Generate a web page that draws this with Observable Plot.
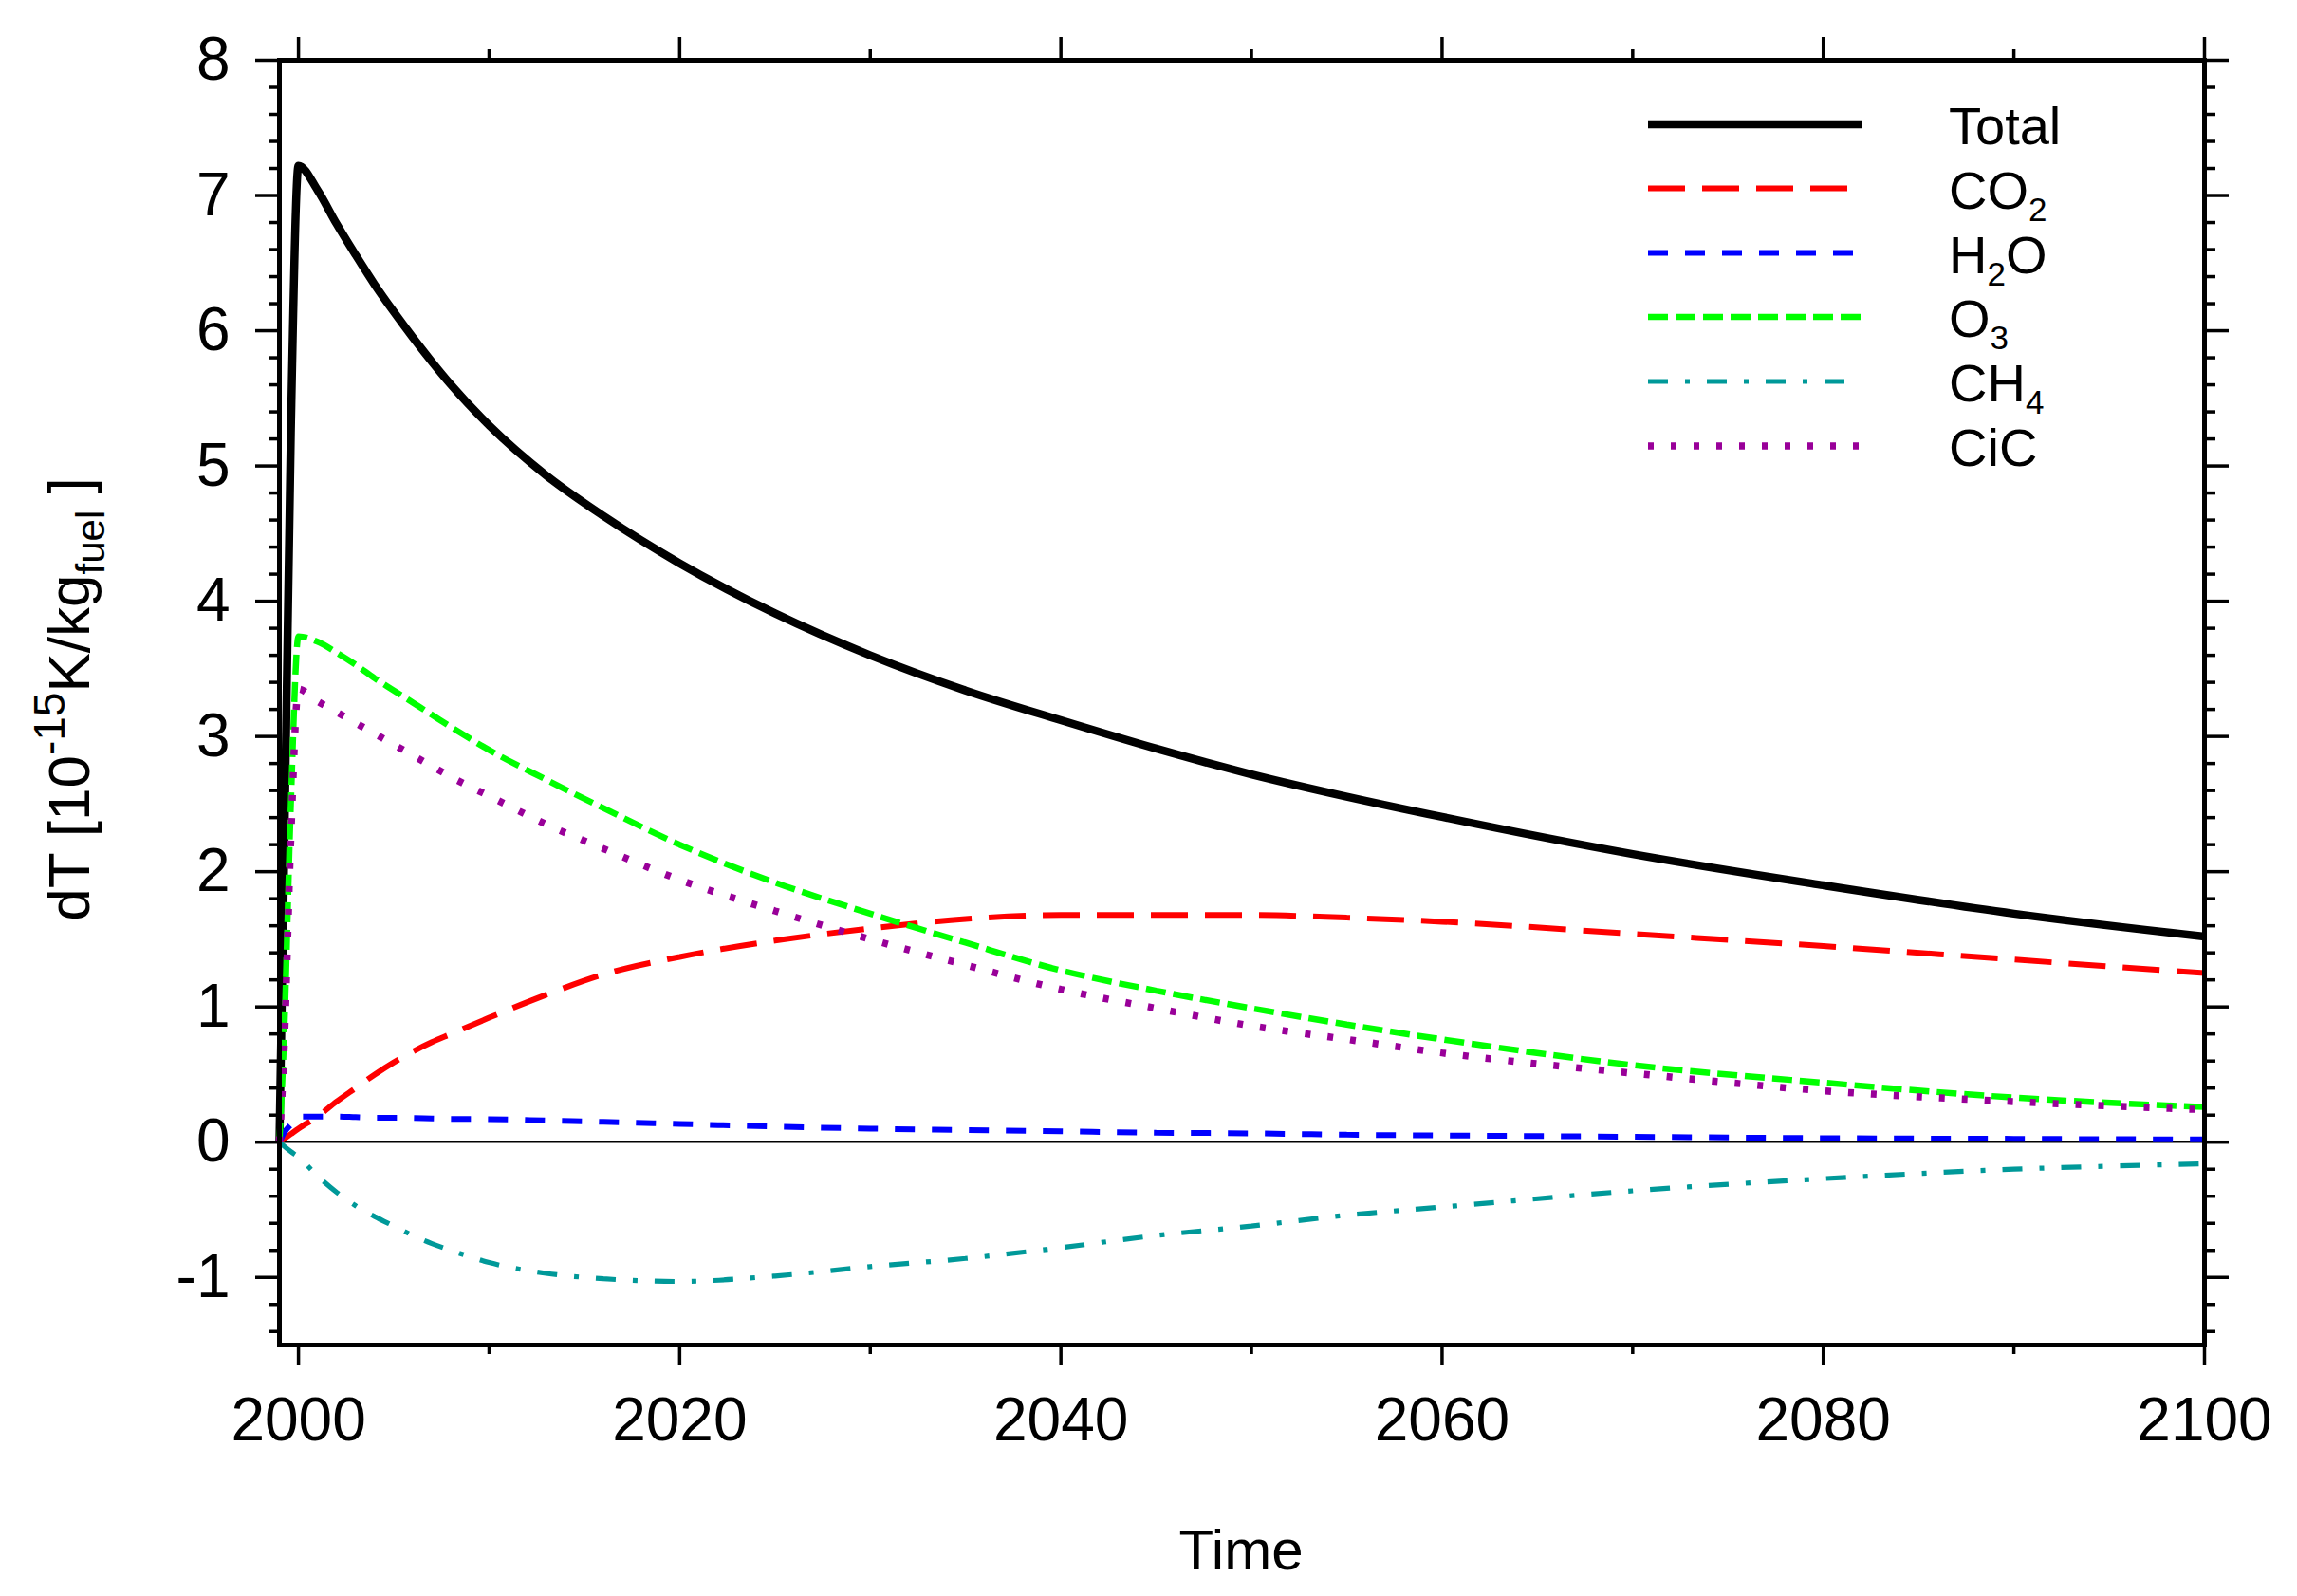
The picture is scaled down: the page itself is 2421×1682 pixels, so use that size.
<!DOCTYPE html>
<html>
<head>
<meta charset="utf-8">
<script src="https://cdn.jsdelivr.net/npm/d3@7"></script>
<script src="https://cdn.jsdelivr.net/npm/@observablehq/plot@0.6"></script>
<style>
  html, body { margin: 0; padding: 0; background: #fff; overflow: hidden; }
  svg { display: block; }
</style>
</head>
<body>
<div id="chart"></div>
<script>
// ---- data ----
const years = [1999, 1999.25, 1999.6, 2000, 2001, 2002, 2003, 2004, 2005, 2006, 2007, 2008, 2010, 2013, 2016, 2020, 2025, 2030, 2035, 2040, 2045, 2050, 2055, 2060, 2070, 2080, 2090, 2100];
const total = [0, 2.1, 5.25, 7.22, 7.04, 6.79, 6.56, 6.34, 6.14, 5.95, 5.77, 5.60, 5.30, 4.93, 4.63, 4.28, 3.91, 3.60, 3.34, 3.12, 2.91, 2.72, 2.555, 2.405, 2.13, 1.90, 1.69, 1.52];
const co2   = [0, 0.025, 0.06, 0.10, 0.19, 0.30, 0.40, 0.50, 0.59, 0.67, 0.74, 0.80, 0.92, 1.09, 1.24, 1.37, 1.49, 1.58, 1.65, 1.68, 1.68, 1.68, 1.66, 1.63, 1.54, 1.45, 1.35, 1.25];
const h2o   = [0, 0.07, 0.13, 0.19, 0.19, 0.19, 0.185, 0.18, 0.18, 0.178, 0.175, 0.172, 0.17, 0.16, 0.15, 0.135, 0.115, 0.10, 0.09, 0.08, 0.07, 0.065, 0.055, 0.05, 0.04, 0.03, 0.025, 0.02];
const o3    = [0, 0.8, 2.5, 3.74, 3.70, 3.62, 3.53, 3.43, 3.34, 3.25, 3.16, 3.07, 2.90, 2.68, 2.47, 2.20, 1.92, 1.69, 1.475, 1.27, 1.12, 0.99, 0.87, 0.76, 0.57, 0.44, 0.33, 0.26];
const ch4   = [0, -0.03, -0.07, -0.11, -0.25, -0.37, -0.47, -0.55, -0.62, -0.69, -0.75, -0.80, -0.89, -0.97, -1.01, -1.03, -0.99, -0.92, -0.86, -0.78, -0.69, -0.62, -0.54, -0.48, -0.36, -0.27, -0.20, -0.16];
const cic   = [0, 0.7, 2.25, 3.35, 3.26, 3.18, 3.10, 3.02, 2.94, 2.86, 2.78, 2.70, 2.56, 2.35, 2.17, 1.94, 1.71, 1.50, 1.31, 1.13, 0.99, 0.86, 0.76, 0.66, 0.51, 0.38, 0.30, 0.24];
const seriesNames = ["Total", "CO2", "H2O", "O3", "CH4", "CiC"];
const seriesValues = [total, co2, h2o, o3, ch4, cic];
const yMajorTicks = [-1, 0, 1, 2, 3, 4, 5, 6, 7, 8];
const xMajorTicks = [2000, 2020, 2040, 2060, 2080, 2100];
const xMinorTicks = [2010, 2030, 2050, 2070, 2090];
const yMinorTicks = d3.range(-14, 80, 2).map(v => v / 10).filter(v => !Number.isInteger(v));
const xTitle = "Time";

// ---- styles ----
const styles = [
  {stroke: "#000000", strokeWidth: 8.5, dash: null},
  {stroke: "#ff0000", strokeWidth: 6,   dash: "39,18"},
  {stroke: "#0000ff", strokeWidth: 6,   dash: "21,18"},
  {stroke: "#00ff00", strokeWidth: 6.5, dash: "21,8"},
  {stroke: "#009999", strokeWidth: 5.2, dash: "21,18,5,18"},
  {stroke: "#990099", strokeWidth: 7.5, dash: "6,18"}
];
const FONT = "'Liberation Sans', Arial, Helvetica, sans-serif";

const table = (vals) => years.map((yr, i) => ({year: yr, value: vals[i]}));

const lineMarks = seriesValues.map((vals, k) => Plot.line(table(vals), {
  x: "year", y: "value",
  stroke: styles[k].stroke,
  strokeWidth: styles[k].strokeWidth,
  strokeDasharray: styles[k].dash,
  strokeLinecap: "butt",
  strokeLinejoin: "miter",
  curve: "monotone-x"
}));

const chart = Plot.plot({
  width: 2421,
  height: 1682,
  marginLeft: 294,
  marginRight: 98,
  marginTop: 63,
  marginBottom: 265,
  style: {fontFamily: FONT, background: "#fff", color: "#000"},
  x: {domain: [1999, 2100], label: null},
  y: {domain: [-1.5, 8], label: null},
  marks: [
    Plot.ruleY([0], {stroke: "#000", strokeWidth: 1.5}),
    ...lineMarks,
    Plot.frame({stroke: "#000", strokeWidth: 5}),
    Plot.axisY({ticks: yMajorTicks, tickSize: 25, tickPadding: 27, fontSize: 64, strokeWidth: 3.5, tickFormat: d => String(d), label: null}),
    Plot.axisY({ticks: yMinorTicks, tickSize: 11, strokeWidth: 3.5, fill: "none", label: null}),
    Plot.axisY({ticks: yMajorTicks, anchor: "right", tickSize: 25, strokeWidth: 3.5, fill: "none", label: null}),
    Plot.axisY({ticks: yMinorTicks, anchor: "right", tickSize: 11, strokeWidth: 3.5, fill: "none", label: null}),
    Plot.axisX({ticks: xMajorTicks, tickSize: 22, tickPadding: 33, fontSize: 64, strokeWidth: 3.5, tickFormat: d => String(d), label: null}),
    Plot.axisX({ticks: xMinorTicks, tickSize: 10, strokeWidth: 3.5, fill: "none", label: null}),
    Plot.axisX({ticks: xMajorTicks, anchor: "top", tickSize: 25, strokeWidth: 3.5, fill: "none", label: null}),
    Plot.axisX({ticks: xMinorTicks, anchor: "top", tickSize: 12, strokeWidth: 3.5, fill: "none", label: null})
  ]
});

document.getElementById("chart").appendChild(chart);

// ---- titles and legend (real text) ----
const svg = d3.select(chart);

// x axis title
svg.append("text")
  .attr("x", 1308).attr("y", 1654)
  .attr("text-anchor", "middle")
  .attr("font-family", FONT).attr("font-size", 60).attr("fill", "#000")
  .text(xTitle);

// y axis title: dT [10^-15 K/kg_fuel ]
const yt = svg.append("text")
  .attr("transform", "translate(94,737) rotate(-90)")
  .attr("text-anchor", "middle")
  .attr("font-family", FONT).attr("font-size", 62).attr("fill", "#000");
yt.append("tspan").text("dT [10");
yt.append("tspan").attr("font-size", 46).attr("dy", -26).text("-15");
yt.append("tspan").attr("dy", 26).text("K/kg");
yt.append("tspan").attr("font-size", 42).attr("dy", 16).text("fuel");
yt.append("tspan").attr("dy", -16).text("\u00a0]");

// legend
const legBaselines = [152, 219.5, 287.5, 355, 423, 491];
const leg = svg.append("g").attr("text-anchor", "start");
seriesNames.forEach((name, k) => {
  const base = legBaselines[k];
  const ly = base - 21;
  leg.append("line")
    .attr("x1", 1737).attr("x2", 1962).attr("y1", ly).attr("y2", ly)
    .attr("stroke", styles[k].stroke)
    .attr("stroke-width", styles[k].strokeWidth)
    .attr("stroke-dasharray", styles[k].dash)
    .attr("stroke-linecap", "butt");
  const t = leg.append("text")
    .attr("x", 2054).attr("y", base)
    .attr("text-anchor", "start")
    .attr("font-family", FONT).attr("font-size", 56).attr("fill", "#000");
  const parts = name.match(/\d+|\D+/g);
  let shifted = false;
  parts.forEach(p => {
    if (/^\d+$/.test(p)) {
      t.append("tspan").attr("font-size", 35).attr("dy", 13).text(p);
      shifted = true;
    } else {
      const ts = t.append("tspan").text(p);
      if (shifted) { ts.attr("dy", -13); shifted = false; }
    }
  });
});
</script>
</body>
</html>
